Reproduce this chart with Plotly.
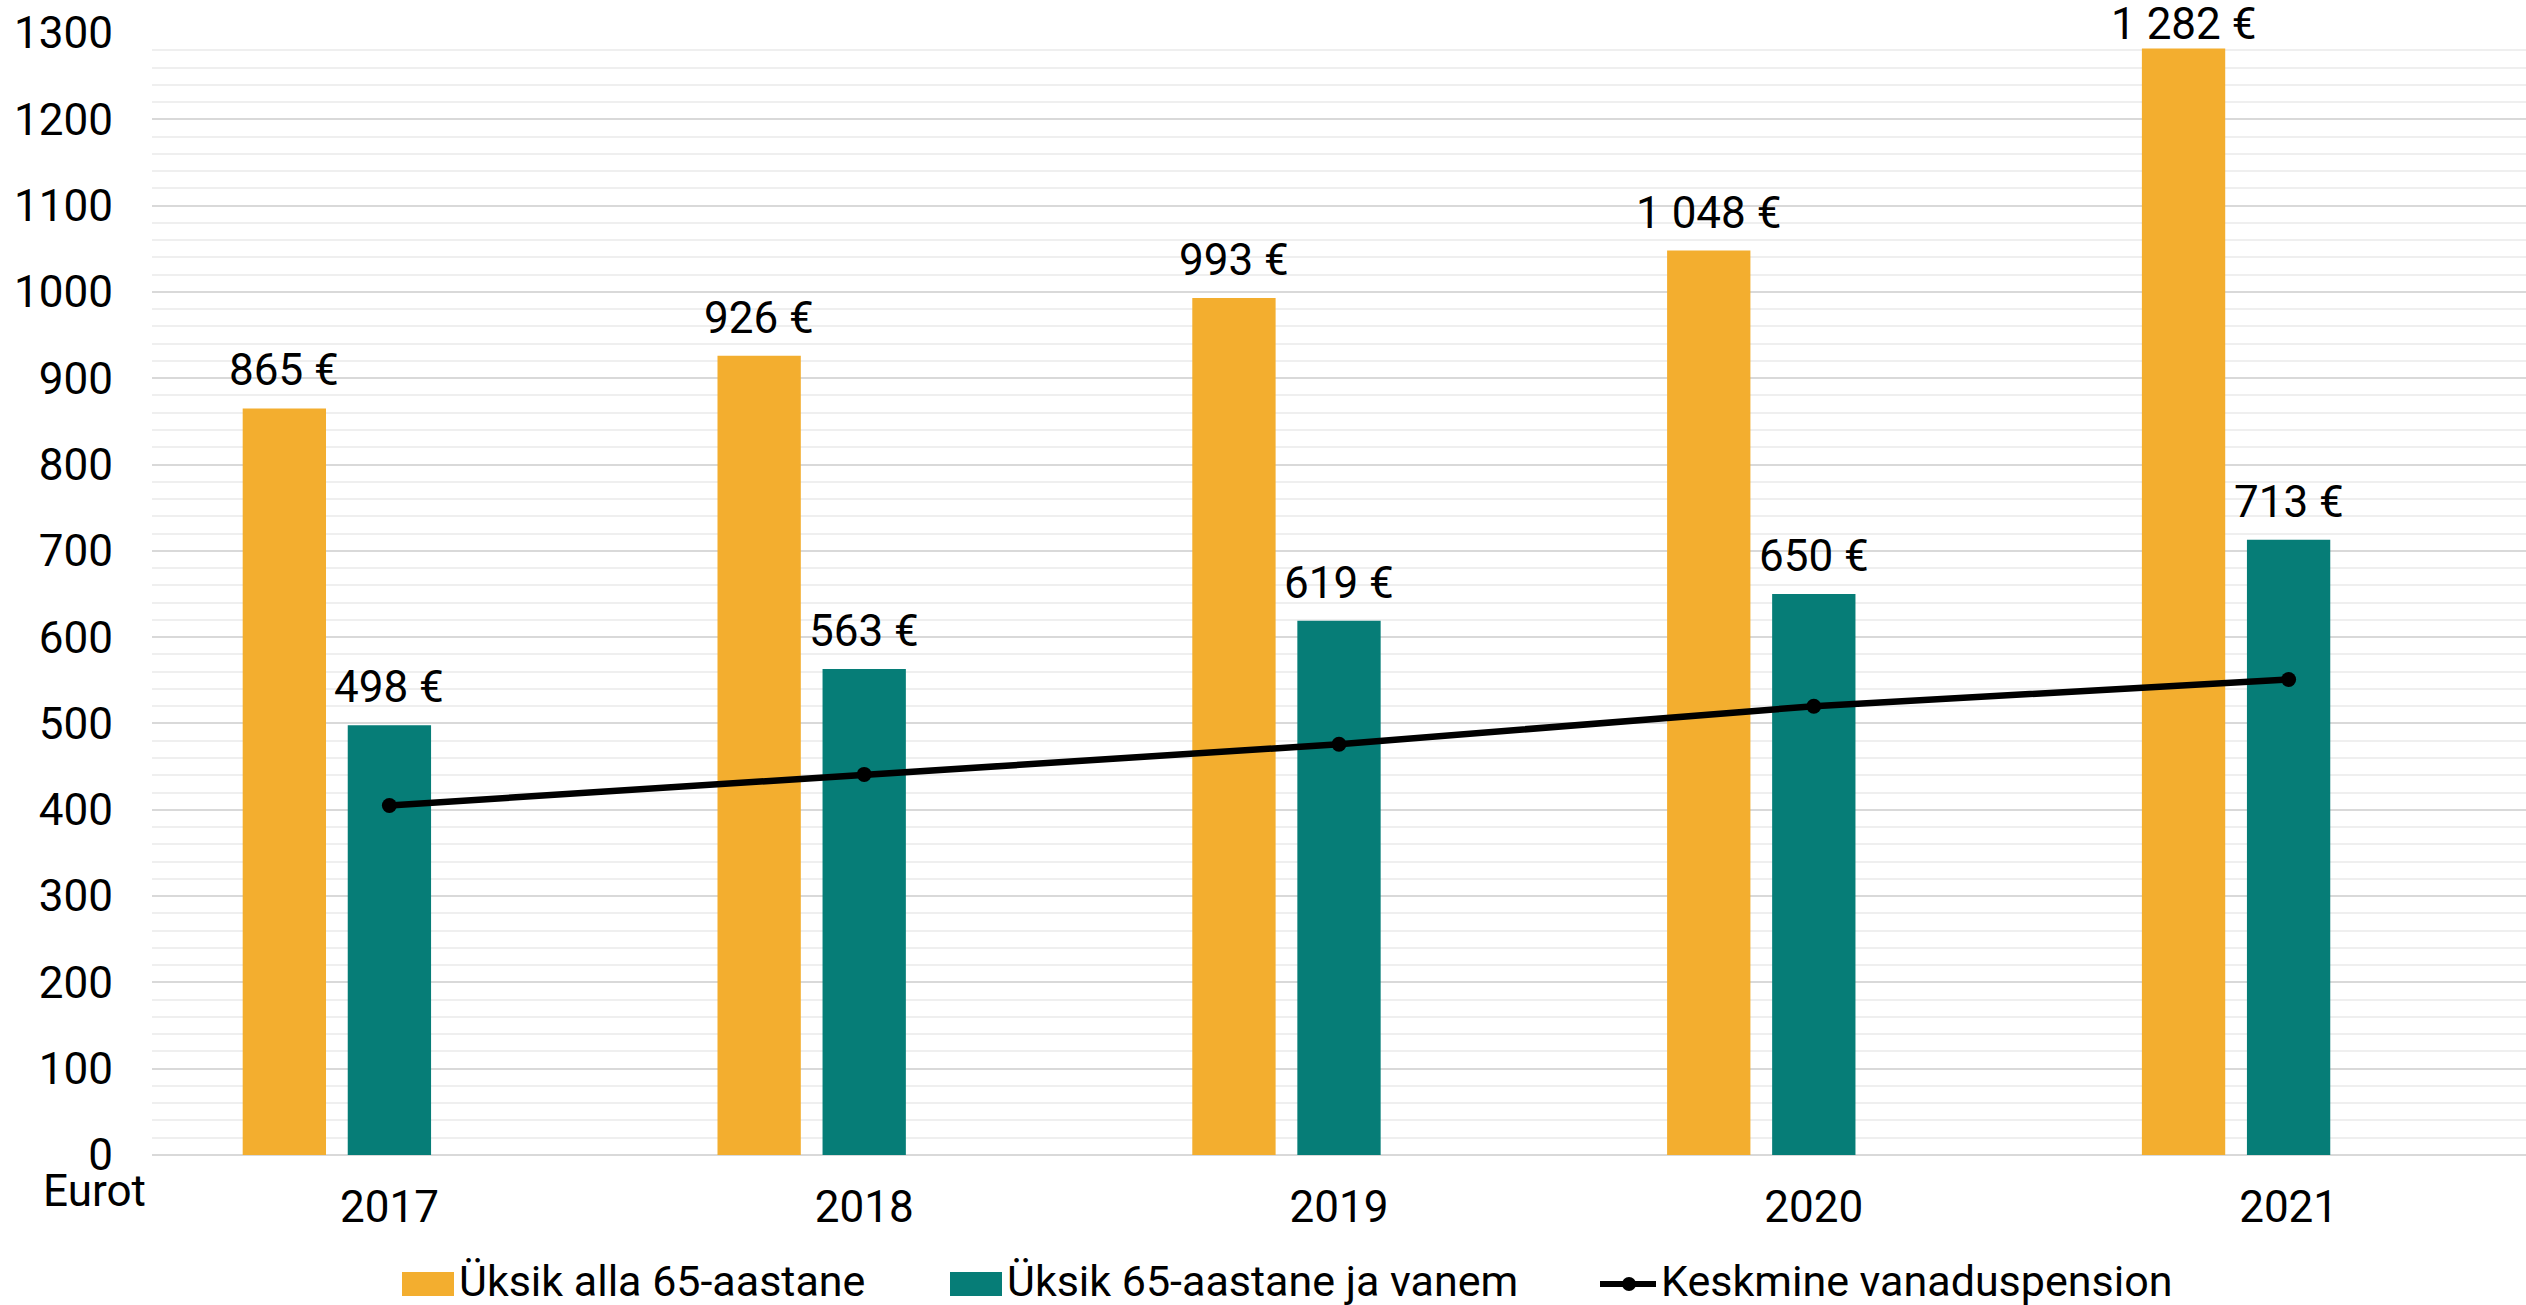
import plotly.graph_objects as go

years = ["2017", "2018", "2019", "2020", "2021"]
alla65 = [865, 926, 993, 1048, 1282]
vanem65 = [498, 563, 619, 650, 713]
pension = [405, 441, 476, 520, 551]
names = ["Üksik alla 65-aastane", "Üksik 65-aastane ja vanem", "Keskmine vanaduspension"]
y_ticks = list(range(0, 1301, 100))

ORANGE = "#F3AE2F"
TEAL = "#067D77"
FONT = "Roboto"
FS = 44
LEG_FS = 43

W, H = 2526, 1305
L, R, T, B = 152, 0, 33, 150
PW, PH = W - L - R, H - T - B
YMAX = 1300

BAR_W = 0.1755
OFF_O = -0.309
OFF_T = -BAR_W / 2


def fmt(v):
    return f"{v:,}".replace(",", "\u00a0") + "\u00a0€"


def px(xp):
    return (xp - L) / PW


def py(yp):
    return (T + PH - yp) / PH


def label_shift(v):
    # keep labels inside the picture (like the original chart does)
    bar_top = T + PH * (1 - v / YMAX)
    return min(10, bar_top - 52)


fig = go.Figure()
fig.add_trace(go.Bar(x=years, y=alla65, name=names[0], marker=dict(color=ORANGE, line=dict(width=0)),
                     width=BAR_W, offset=OFF_O, showlegend=False))
fig.add_trace(go.Bar(x=years, y=vanem65, name=names[1], marker=dict(color=TEAL, line=dict(width=0)),
                     width=BAR_W, offset=OFF_T, showlegend=False))
fig.add_trace(go.Scatter(x=years, y=pension, name=names[2], mode="lines+markers",
                         line=dict(color="black", width=6.5), marker=dict(color="black", size=15),
                         showlegend=False))

annotations = []
for i, (a, b) in enumerate(zip(alla65, vanem65)):
    annotations.append(dict(x=i + OFF_O + BAR_W / 2, y=a, xref="x", yref="y", text=fmt(a),
                            showarrow=False, yanchor="bottom", yshift=label_shift(a),
                            font=dict(family=FONT, size=FS, color="black")))
    annotations.append(dict(x=i + OFF_T + BAR_W / 2, y=b, xref="x", yref="y", text=fmt(b),
                            showarrow=False, yanchor="bottom", yshift=label_shift(b),
                            font=dict(family=FONT, size=FS, color="black")))

annotations.append(dict(x=px(94), y=py(1191), xref="paper", yref="paper", text="Eurot",
                        showarrow=False, xanchor="center", yanchor="middle",
                        font=dict(family=FONT, size=FS, color="black")))

# manual legend
shapes = []
leg_y = 1284
txt_y = 1281
shapes.append(dict(type="rect", xref="paper", yref="paper", x0=px(402), x1=px(454),
                   y0=py(1296), y1=py(1272), fillcolor=ORANGE, line=dict(width=0)))
shapes.append(dict(type="rect", xref="paper", yref="paper", x0=px(950), x1=px(1002),
                   y0=py(1296), y1=py(1272), fillcolor=TEAL, line=dict(width=0)))
shapes.append(dict(type="line", xref="paper", yref="paper", x0=px(1600), x1=px(1656),
                   y0=py(leg_y), y1=py(leg_y), line=dict(color="black", width=6)))
shapes.append(dict(type="circle", xref="paper", yref="paper", x0=px(1622), x1=px(1636),
                   y0=py(leg_y + 7), y1=py(leg_y - 7), fillcolor="black", line=dict(width=0)))
for name, xs in zip(names, [458, 1006, 1660]):
    annotations.append(dict(x=px(xs), y=py(txt_y), xref="paper", yref="paper", text=name,
                            showarrow=False, xanchor="left", yanchor="middle", borderpad=0,
                            font=dict(family=FONT, size=LEG_FS, color="black")))

fig.update_layout(
    width=W, height=H,
    margin=dict(l=L, r=R, t=T, b=B, pad=0),
    paper_bgcolor="white", plot_bgcolor="white",
    barmode="overlay",
    font=dict(family=FONT, size=FS, color="black"),
    annotations=annotations,
    shapes=shapes,
    showlegend=False,
)
fig.update_xaxes(type="category", range=[-0.5, 4.5], showgrid=False, showline=False,
                 ticks="", tickfont=dict(family=FONT, size=FS, color="black"),
                 ticklabelstandoff=22, zeroline=False)
fig.update_yaxes(range=[0, YMAX], tickvals=y_ticks, showgrid=True, gridcolor="#d9d9d9", gridwidth=2,
                 minor=dict(dtick=20, showgrid=True, gridcolor="#efefef", gridwidth=2),
                 zeroline=True, zerolinecolor="#d9d9d9", zerolinewidth=2,
                 ticks="", tickfont=dict(family=FONT, size=FS, color="black"),
                 ticklabelstandoff=38, showline=False)

fig.write_html("out.html")
